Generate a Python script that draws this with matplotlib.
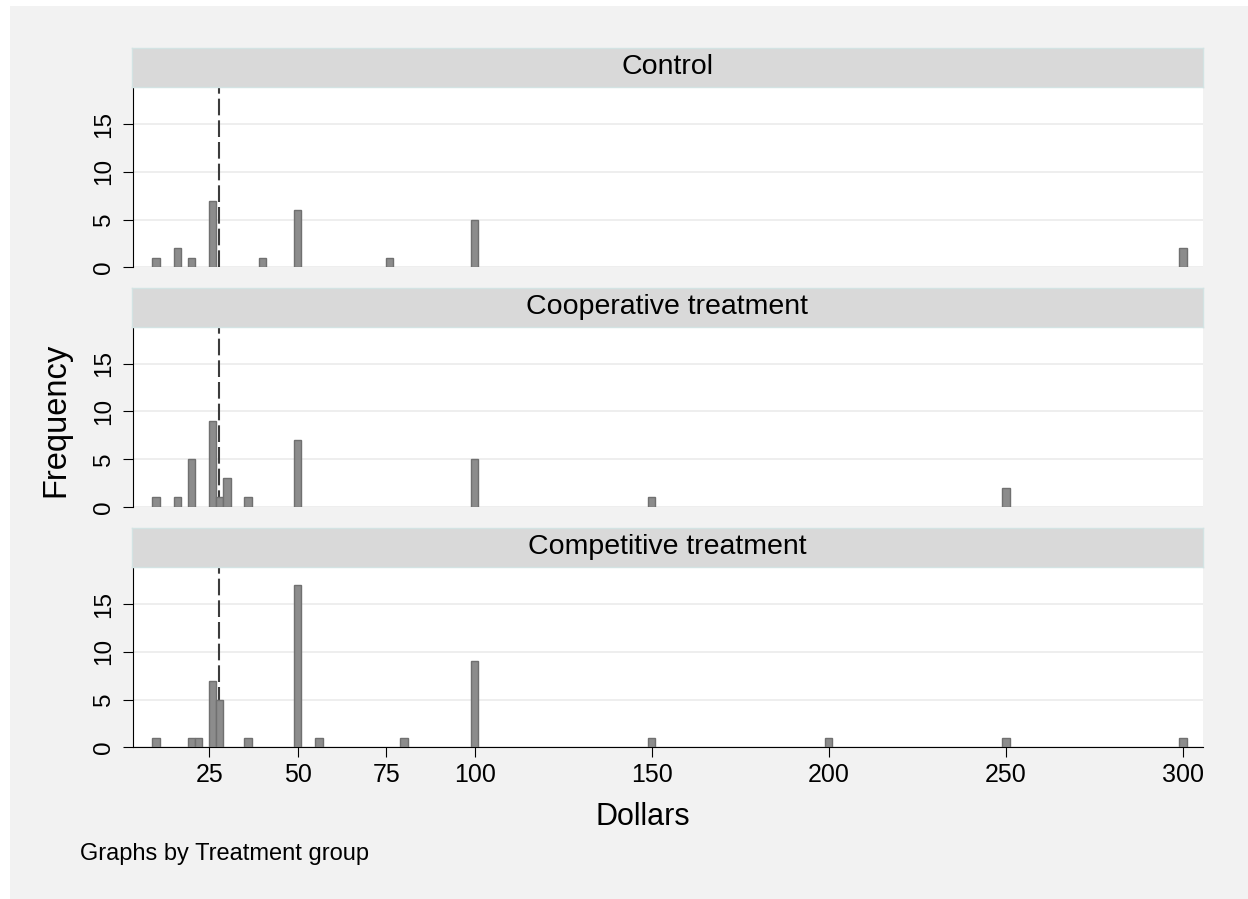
import matplotlib
matplotlib.use("Agg")
import matplotlib.pyplot as plt
from matplotlib.patches import Rectangle

plt.rcParams['font.family'] = ['Liberation Sans', 'DejaVu Sans']
plt.rcParams['lines.scale_dashes'] = False

# Frequency of dollar amounts by treatment group
panel_titles = ["Control", "Cooperative treatment", "Competitive treatment"]

control_dollars = [10, 16, 20, 26, 40, 50, 76, 100, 300]
control_counts = [1, 2, 1, 7, 1, 6, 1, 5, 2]

coop_dollars = [10, 16, 20, 26, 28, 30, 36, 50, 100, 150, 250]
coop_counts = [1, 1, 5, 9, 1, 3, 1, 7, 5, 1, 2]

comp_dollars = [10, 20, 22, 26, 28, 36, 50, 56, 80, 100, 150, 200, 250, 300]
comp_counts = [1, 1, 1, 7, 5, 1, 17, 1, 1, 9, 1, 1, 1, 1]

reference_dollars = 27.9

x_ticks = [25, 50, 75, 100, 150, 200, 250, 300]
y_ticks = [0, 5, 10, 15]

W, H = 1248, 899
fig = plt.figure(figsize=(W / 100, H / 100), dpi=100)
fig.patch.set_facecolor("white")
fig.add_artist(Rectangle((10 / W, 0), 1 - 10 / W, (H - 6) / H,
                         transform=fig.transFigure, facecolor="#f2f2f2",
                         edgecolor="none", zorder=-10))

left_px, right_px = 133, 1203
plot_tops = [87, 326.5, 567]
plot_h = 180.3
strip_h = 39

groups = [(control_dollars, control_counts),
          (coop_dollars, coop_counts),
          (comp_dollars, comp_counts)]

def fig_rect(x0, top, w, h):
    return [x0 / W, (H - top - h) / H, w / W, h / H]

for i, (title, (dollars, counts)) in enumerate(zip(panel_titles, groups)):
    top = plot_tops[i]
    ax = fig.add_axes(fig_rect(left_px, top, right_px - left_px, plot_h))
    ax.set_facecolor("white")
    ax.set_xlim(3.5, 305.7)
    ax.set_ylim(0, 18.9)
    ax.set_yticks(y_ticks)
    ax.set_yticklabels([str(t) for t in y_ticks], rotation=90, va="center")
    ax.yaxis.grid(True, color="#eaeaea", linewidth=1.1, zorder=0)
    ax.set_axisbelow(True)
    ax.tick_params(axis="y", length=7, width=0.8, pad=6, labelsize=17.5, colors="black")

    ax.axvline(reference_dollars, color="#3c3c3c", linewidth=1.5,
               linestyle=(0, (12, 3.6)), zorder=2)
    ax.bar(dollars, counts, width=2.1, color="#8c8c8c", edgecolor="#707070",
           linewidth=1.0, zorder=3)

    for s in ("top", "right"):
        ax.spines[s].set_visible(False)
    ax.spines["left"].set_linewidth(0.8)
    if i < 2:
        ax.spines["bottom"].set_visible(False)
        ax.set_xticks([])
    else:
        ax.spines["bottom"].set_linewidth(0.8)
        ax.set_xticks(x_ticks)
        ax.set_xticklabels([str(t) for t in x_ticks])
        ax.tick_params(axis="x", length=7, width=0.8, pad=4, labelsize=18)

    sax = fig.add_axes(fig_rect(left_px - 1, top - strip_h, right_px - left_px + 1, strip_h))
    sax.set_facecolor("#d9d9d9")
    sax.set_xticks([])
    sax.set_yticks([])
    for s in sax.spines.values():
        s.set_color("#d3e3e3")
        s.set_linewidth(1.0)
    sax.text(0.5, 0.5, title, ha="center", va="center", fontsize=20.5,
             transform=sax.transAxes)

fig.text(643 / W, 1 - 817 / H, "Dollars", ha="center", va="center", fontsize=22)
fig.text(56 / W, 1 - 420 / H, "Frequency", ha="center", va="center",
         rotation=90, fontsize=23.5)
fig.text(80 / W, 1 - 854 / H, "Graphs by Treatment group", ha="left",
         va="center", fontsize=17)

fig.savefig("out.png", dpi=100, facecolor=fig.get_facecolor())
